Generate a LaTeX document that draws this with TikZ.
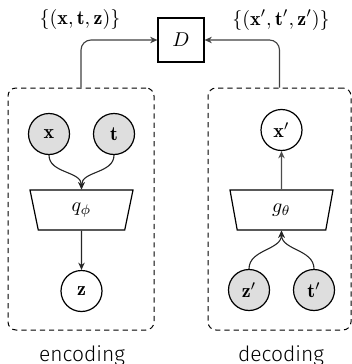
\documentclass[tikz,border=0pt]{standalone}
\usepackage{fontspec}
\setsansfont{Fira Sans Light}
\usetikzlibrary{shapes.geometric,arrows.meta}
\begin{document}
\begin{tikzpicture}[x=0.5pt,y=-0.5pt,
  var/.style={circle,draw,line width=0.6pt,minimum size=20.5pt,inner sep=0pt},
  obs/.style={var,fill=black!13},
  net/.style={trapezium,draw,line width=0.6pt,trapezium left angle=60,
    trapezium right angle=60,shape border rotate=180,minimum height=20pt,
    minimum width=51.5pt,trapezium stretches body,inner sep=0pt},
  group/.style={draw,dashed,dash pattern=on 2.6pt off 2pt,line width=0.5pt,
    rounded corners=4pt,minimum height=121pt},
  link/.style={line width=0.55pt,draw=black!85,-{Stealth[length=3.6pt,width=3.2pt]}},
  caption/.style={font=\sffamily\fontsize{10.5}{12}\selectfont,anchor=base}]
\useasboundingbox (0,0) rectangle (352,364);

% discriminator
\node[draw,line width=0.6pt,minimum width=23pt,minimum height=22pt,inner sep=0pt] (D) at (181,40) {$D$};
\node (reallbl) at (80,20) {$\{(\mathbf{x},\mathbf{t},\mathbf{z})\}$};
\node (fakelbl) at (281,20) {$\{(\mathbf{x}',\mathbf{t}',\mathbf{z}')\}$};

% encoding group
\node[group,minimum width=73pt] (enc) at (81,209) {};
\node[obs] (x) at (49,134) {$\mathbf{x}$};
\node[obs] (t) at (114,134) {$\mathbf{t}$};
\node[net] (q) at (81.5,210) {$q_\phi$};
\node[var] (z) at (81.5,291) {$\mathbf{z}$};
\node[caption] (enclbl) at (82,361) {encoding};

% decoding group
\node[group,minimum width=71.5pt] (dec) at (279.5,209) {};
\node[var] (xp) at (281.5,130) {$\mathbf{x}'$};
\node[net] (g) at (281.5,210) {$g_\theta$};
\node[obs] (zp) at (249,290) {$\mathbf{z}'$};
\node[obs] (tp) at (314,290) {$\mathbf{t}'$};
\node[caption] (declbl) at (281,361) {decoding};

% encoder connections
\draw[link] (x.south) to[out=-90,in=90] (q.north);
\draw[link] (t.south) to[out=-90,in=90] (q.north);
\draw[link] (q.south) -- (z.north);

% decoder connections
\draw[link] (zp.north) to[out=90,in=-90] (g.south);
\draw[link] (tp.north) to[out=90,in=-90] (g.south);
\draw[link,draw=black!70] (g.north) -- (xp.south);

% tuples fed to the discriminator
\draw[link,draw=black!75,rounded corners=5pt] (enc.north) |- (D.west);
\draw[link,draw=black!75,rounded corners=5pt] (dec.north) |- (D.east);
\end{tikzpicture}
\end{document}
